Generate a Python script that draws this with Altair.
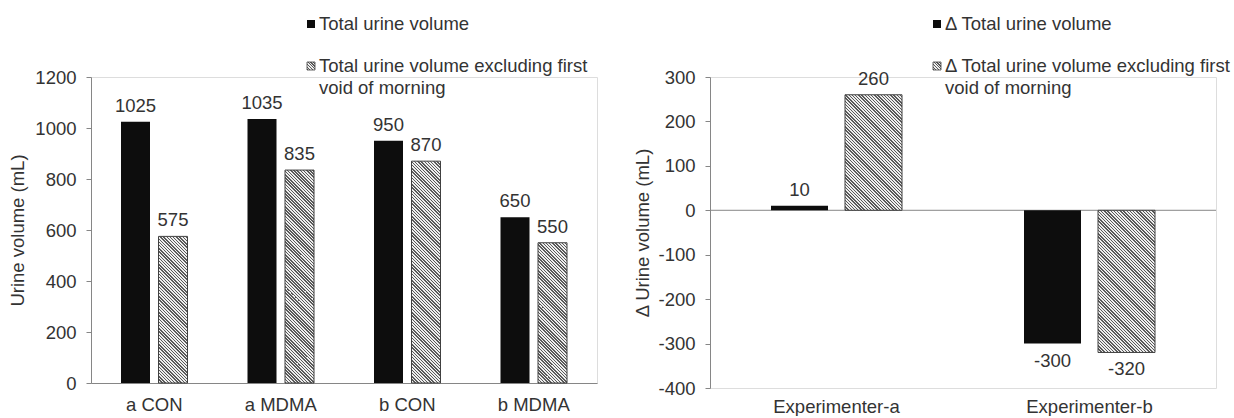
import altair as alt
import pandas as pd

# ---- data -------------------------------------------------------------
left_categories = ["a CON", "a MDMA", "b CON", "b MDMA"]
left_total = [1025, 1035, 950, 650]
left_excl = [575, 835, 870, 550]
left_series = ["Total urine volume",
               "Total urine volume excluding first void of morning"]
left_legend_lines = [["Total urine volume"],
                     ["Total urine volume excluding first", "void of morning"]]
left_ticks = [0, 200, 400, 600, 800, 1000, 1200]

right_categories = ["Experimenter-a", "Experimenter-b"]
right_total = [10, -300]
right_excl = [260, -320]
right_series = ["Δ Total urine volume",
                "Δ Total urine volume excluding first void of morning"]
right_legend_lines = [["Δ Total urine volume"],
                      ["Δ Total urine volume excluding first", "void of morning"]]
right_ticks = [-400, -300, -200, -100, 0, 100, 200, 300]

# ---- style ------------------------------------------------------------
FONT = "Liberation Sans"
TXT = "#333333"
AXC = "#868686"
BLACK = "#0d0d0d"
FS = 18.5


def hatch(w, h, period=3.2, dark="#5a5a5a", light="#eeeeee", frac=0.45):
    """Linear gradient with hard stops drawing 45-degree diagonal stripes
    on a box of w x h pixels (gradient coordinates are bounding-box units)."""
    span = w + h
    k = span / (w * w + h * h)
    stops = []
    i = 0
    while i * period < span:
        a = i * period / span
        b = min((i + frac) * period / span, 1.0)
        c = min((i + 1) * period / span, 1.0)
        stops += [{"offset": a, "color": dark}, {"offset": b, "color": dark},
                  {"offset": b, "color": light}, {"offset": c, "color": light}]
        i += 1
    return {"gradient": "linear", "x1": 0, "y1": 1,
            "x2": k * w, "y2": 1 - k * h, "stops": stops}


def make_df(cats, v1, v2, names):
    rows = []
    for c, a, b in zip(cats, v1, v2):
        rows.append({"category": c, "series": names[0], "value": a, "label": str(a)})
        rows.append({"category": c, "series": names[1], "value": b, "label": str(b)})
    return pd.DataFrame(rows)


def legend_layers(lines, sx, rows_y, line_gap):
    one = alt.Data(values=[{"k": 0}])
    layers = []
    for i, block in enumerate(lines):
        y0 = rows_y[i]
        if i == 0:
            sq = alt.Chart(one).mark_square(size=64, fill=BLACK, opacity=1, strokeWidth=0)
        else:
            sq = alt.Chart(one).mark_square(size=64, fill=hatch(8, 8, period=2.7),
                                            opacity=1, stroke="#404040", strokeWidth=0.8)
        layers.append(sq.encode(x=alt.value(sx + 4), y=alt.value(y0)))
        for j, line in enumerate(block):
            layers.append(
                alt.Chart(one).mark_text(
                    align="left", baseline="middle", fontSize=FS, font=FONT, color=TXT
                ).encode(x=alt.value(sx + 12), y=alt.value(y0 + j * line_gap),
                         text=alt.value(line))
            )
    return layers


def panel(cats, v1, v2, names, legend_lines, domain, ticks, W, H,
          bar_w, gap, ytitle, title_pad, legend_x, zero_rule, xlabel_pad):
    df = make_df(cats, v1, v2, names)
    shift = (bar_w + gap) / 2
    span = domain[1] - domain[0]

    base = alt.Chart(df).encode(
        x=alt.X("category:N",
                scale=alt.Scale(domain=cats, paddingInner=0, paddingOuter=0),
                axis=alt.Axis(title=None, labelAngle=0, ticks=False,
                              domain=not zero_rule, domainColor=AXC,
                              labelPadding=xlabel_pad, labelFontSize=FS,
                              labelFont=FONT, labelColor=TXT)),
        y=alt.Y("value:Q",
                scale=alt.Scale(domain=domain, nice=False),
                axis=alt.Axis(values=ticks, grid=False, tickSize=5, tickColor=AXC,
                              domainColor=AXC, labelPadding=10, labelFontSize=FS,
                              labelFont=FONT, labelColor=TXT,
                              labelExpr="'' + datum.value",
                              title=ytitle, titleFontSize=FS,
                              titleFontWeight="normal", titleFont=FONT,
                              titleColor=TXT, titlePadding=title_pad)),
    )

    first = base.transform_filter(alt.datum.series == names[0])
    second = base.transform_filter(alt.datum.series == names[1])

    layers = []
    if zero_rule:
        layers.append(
            alt.Chart(alt.Data(values=[{"k": 0}])).mark_rule(
                color=AXC, strokeWidth=1).encode(y=alt.datum(0))
        )
    layers.append(first.mark_bar(color=BLACK, width=bar_w, xOffset=-shift))
    for c, v in zip(cats, v2):
        h = abs(v) / span * H
        layers.append(
            second.transform_filter(alt.datum.category == c)
            .mark_bar(fill=hatch(bar_w, h), stroke="#404040", strokeWidth=1,
                      width=bar_w, xOffset=shift)
        )
    for sub, dx in ((first, -shift), (second, shift)):
        layers.append(
            sub.transform_filter(alt.datum.value >= 0).mark_text(
                dy=-16, xOffset=dx, baseline="middle", fontSize=FS, font=FONT, color=TXT
            ).encode(text="label:N")
        )
        layers.append(
            sub.transform_filter(alt.datum.value < 0).mark_text(
                dy=17, xOffset=dx, baseline="middle", fontSize=FS, font=FONT, color=TXT
            ).encode(text="label:N")
        )
    layers += legend_layers(legend_lines, legend_x, [-53, -11], 22)
    return alt.layer(*layers).properties(width=W, height=H)


left = panel(left_categories, left_total, left_excl, left_series, left_legend_lines,
             [0, 1200], left_ticks, 506, 306, 29, 8.5,
             "Urine volume (mL)", 7, 216, False, 12)
right = panel(right_categories, right_total, right_excl, right_series, right_legend_lines,
              [-400, 300], right_ticks, 506, 311, 57, 17,
              "Δ Urine volume (mL)", 5, 223, True, 9)

chart = (
    alt.hconcat(left, right, spacing=35)
    .properties(padding={"left": 8, "top": 14, "right": 0, "bottom": 0})
    .configure_view(stroke=None)
    .configure(font=FONT)
)

chart.save("out.html", embed_options={"renderer": "svg", "actions": False})
